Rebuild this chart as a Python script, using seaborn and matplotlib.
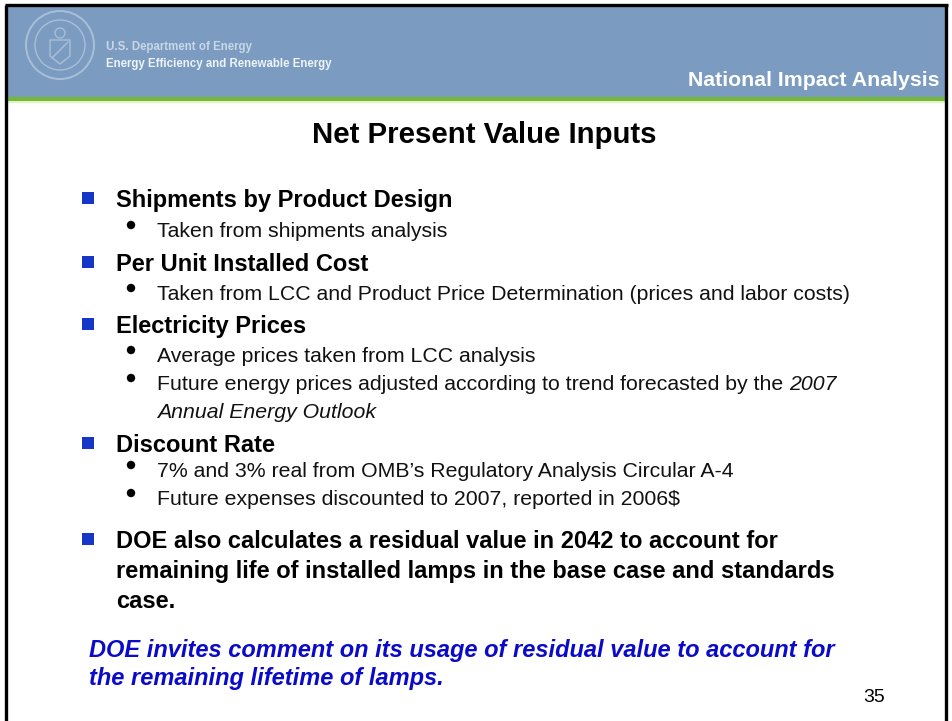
import matplotlib
matplotlib.use("Agg")
import matplotlib.pyplot as plt
import seaborn as sns
from matplotlib.patches import Rectangle, Circle, Polygon

# 슬라이드 텍스트 데이터
header_org = ["U.S. Department of Energy", "Energy Efficiency and Renewable Energy"]
section_name = "National Impact Analysis"
slide_title = "Net Present Value Inputs"
headings = ["Shipments by Product Design",
            "Per Unit Installed Cost",
            "Electricity Prices",
            "Discount Rate"]
sub_items = [["Taken from shipments analysis"],
             ["Taken from LCC and Product Price Determination (prices and labor costs)"],
             ["Average prices taken from LCC analysis",
              "Future energy prices adjusted according to trend forecasted by the "],
             ["7% and 3% real from OMB\u2019s Regulatory Analysis Circular A-4",
              "Future expenses discounted to 2007, reported in 2006\\$"]]
italic_tail = ["2007", "Annual Energy Outlook"]
residual_lines = ["DOE also calculates a residual value in 2042 to account for",
                  "remaining life of installed lamps in the base case and standards",
                  "case."]
comment_lines = ["DOE invites comment on its usage of residual value to account for",
                 "the remaining lifetime of lamps."]
page_no = "35"

sns.set_theme(style="white")
plt.rcParams['font.family'] = ['Liberation Sans', 'DejaVu Sans']

HEADER_BLUE = "#7b9cc0"
GREEN = "#74b936"
BULLET_BLUE = "#1636c8"
TEXT_BLUE = "#0a0ac8"
FS_HEAD = 17
FS_SUB = 15.3

fig = plt.figure(figsize=(9.53, 7.21), dpi=100)
ax = fig.add_axes([0, 0, 1, 1])
ax.set_xlim(0, 953)
ax.set_ylim(721, 0)
ax.axis('off')

# 헤더 영역
ax.add_patch(Rectangle((7, 6), 939, 91, color=HEADER_BLUE, lw=0))
ax.add_patch(Rectangle((7, 97), 939, 4, color=GREEN, lw=0))
ax.add_patch(Rectangle((7, 101), 939, 2, color="#e2f3c8", lw=0))
# 테두리
ax.plot([6.5, 6.5], [721, 5], color="black", lw=2.4, solid_capstyle='butt')
ax.plot([5, 948], [5, 5], color="black", lw=2.4, solid_capstyle='butt')
ax.plot([946.5, 946.5], [5, 721], color="black", lw=2.4, solid_capstyle='butt')

# 로고 (희미한 인장)
seal = "#a9bfd8"
ax.add_patch(Circle((60, 45), 34, fill=False, ec=seal, lw=1.4))
ax.add_patch(Circle((60, 45), 25, fill=False, ec=seal, lw=1.0))
ax.add_patch(Polygon([(50, 40), (70, 40), (70, 56), (60, 64), (50, 56)],
                     closed=True, fill=False, ec=seal, lw=1.0))
ax.plot([52, 68], [58, 42], color=seal, lw=1.0)
ax.add_patch(Circle((60, 33), 5, fill=False, ec=seal, lw=1.0))
ax.text(106, 50, header_org[0], fontsize=8.3, fontweight='bold', color="#c9d7e7",
        family=['Liberation Sans Narrow', 'Liberation Sans'], va='baseline')
ax.text(106, 67, header_org[1], fontsize=8.3, fontweight='bold', color="#eef3f8",
        family=['Liberation Sans Narrow', 'Liberation Sans'], va='baseline')
ax.text(940, 86, section_name, fontsize=15.3, fontweight='bold', color="white",
        ha='right', va='baseline')

# 제목
ax.text(484, 143, slide_title, fontsize=21.2, fontweight='bold', color="black",
        ha='center', va='baseline')

renderer = fig.canvas.get_renderer()


def heading(y, s, square=True):
    if square:
        ax.add_patch(Rectangle((82, y - 15), 12, 12, color=BULLET_BLUE, lw=0))
    ax.text(116, y, s, fontsize=FS_HEAD, fontweight='bold', color="black", va='baseline')


def sub(y, s, dot=True):
    if dot:
        ax.add_patch(Circle((131, y - 12), 4.2, color="black", lw=0))
    return ax.text(157, y, s, fontsize=FS_SUB, color="#111111", va='baseline')


y_head = [207, 271, 333, 452]
y_subs = [[237], [300], [362, 390], [477, 505]]
for h, yh, items, ys in zip(headings, y_head, sub_items, y_subs):
    heading(yh, h)
    for s, ysub in zip(items, ys):
        t = sub(ysub, s)
        if s.endswith("by the "):
            bb = t.get_window_extent(renderer)
            x_end = ax.transData.inverted().transform((bb.x1, bb.y0))[0]
            ax.text(x_end, ysub, italic_tail[0], fontsize=FS_SUB, style='italic',
                    color="#111111", va='baseline')
            ax.text(157, 418, italic_tail[1], fontsize=FS_SUB, style='italic',
                    color="#111111", va='baseline')

for i, (s, yy) in enumerate(zip(residual_lines, [548, 578, 608])):
    heading(yy, s, square=(i == 0))

for s, yy in zip(comment_lines, [657, 685]):
    ax.text(89, yy, s, fontsize=17, fontweight='bold', style='italic',
            color=TEXT_BLUE, va='baseline')

ax.text(863, 702, page_no, fontsize=14, color="black", va='baseline')

fig.savefig("out.png", dpi=100)
